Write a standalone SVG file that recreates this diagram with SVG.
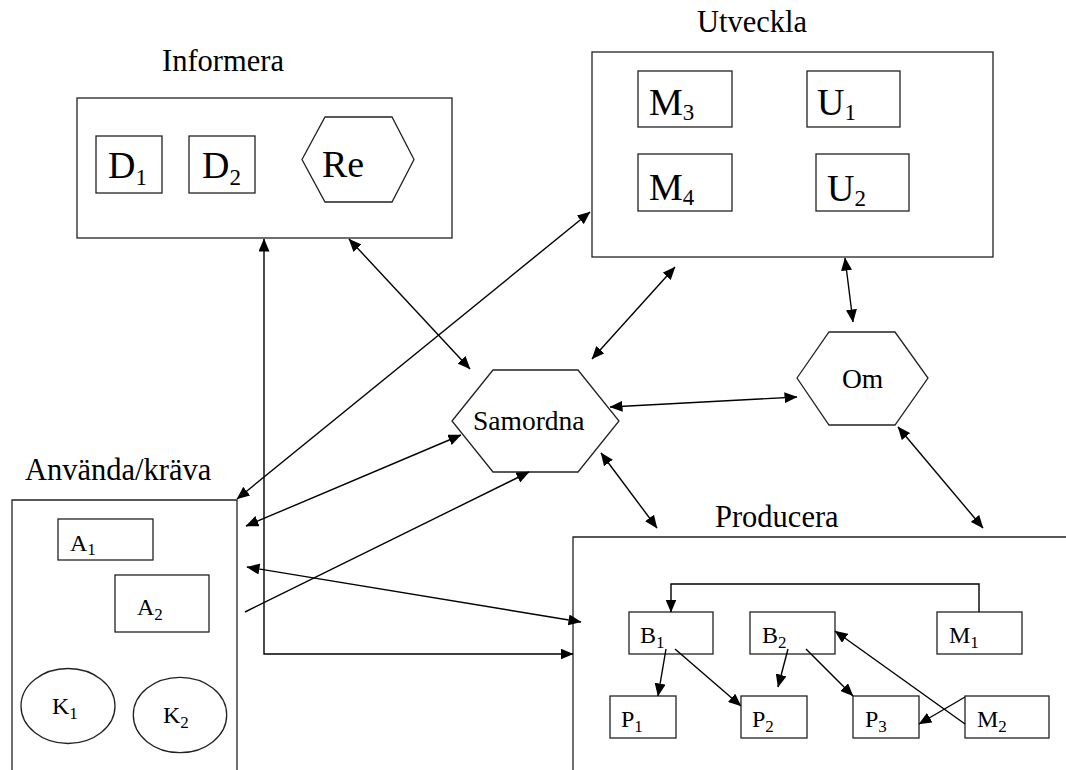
<svg xmlns="http://www.w3.org/2000/svg" width="1066" height="770" viewBox="0 0 1066 770">
<style>
.box{fill:none;stroke:#222;stroke-width:1.3}
.shape{fill:#fff;stroke:#222;stroke-width:1.3}
.t{font-family:"Liberation Serif","Times New Roman",serif;fill:#000}
.title{font-size:30.5px}
.big{font-size:38px}
.mid{font-size:27.5px}
.sm{font-size:24px}
.sub-b{font-size:23px}
.sub-s{font-size:17px}
.c{fill:none;stroke:#000;stroke-width:1.4}
</style>
<defs>
<marker id="ah" markerUnits="userSpaceOnUse" markerWidth="13" markerHeight="11" refX="12.5" refY="5.5" orient="auto-start-reverse">
<path d="M0,0 L13,5.5 L0,11 z" fill="#000"/>
</marker>
</defs>
<rect width="1066" height="770" fill="#fff"/>

<g id="informera">
<text class="t title" x="162" y="71">Informera</text>
<rect class="box" x="77" y="98" width="375" height="140"/>
<g id="D1"><rect class="box" x="96" y="136" width="66" height="57"/><text class="t big" x="108" y="178">D<tspan class="sub-b" dy="7">1</tspan></text></g>
<g id="D2"><rect class="box" x="189" y="136" width="66" height="57"/><text class="t big" x="202" y="178">D<tspan class="sub-b" dy="7">2</tspan></text></g>
<g id="Re"><polygon class="shape" points="302,159.5 325,117 392,117 414,159.5 392,202 325,202"/><text class="t big" x="322" y="177">Re</text></g>
</g>

<g id="utveckla">
<text class="t title" x="697" y="32">Utveckla</text>
<rect class="box" x="592" y="52" width="401" height="205"/>
<g id="M3"><rect class="box" x="638" y="71" width="94" height="56"/><text class="t big" x="649" y="115">M<tspan class="sub-b" dy="5">3</tspan></text></g>
<g id="U1"><rect class="box" x="807" y="71" width="93" height="56"/><text class="t big" x="817" y="115">U<tspan class="sub-b" dy="5">1</tspan></text></g>
<g id="M4"><rect class="box" x="638" y="154" width="94" height="57"/><text class="t big" x="649" y="200">M<tspan class="sub-b" dy="5">4</tspan></text></g>
<g id="U2"><rect class="box" x="816" y="154" width="93" height="57"/><text class="t big" x="827" y="201">U<tspan class="sub-b" dy="5">2</tspan></text></g>
</g>

<g id="samordna">
<polygon class="shape" points="452,421 493,370 578,370 619,421 578,472 493,472"/>
<text class="t mid" x="473" y="430">Samordna</text>
</g>

<g id="om">
<polygon class="shape" points="797,378 829,332 895,332 928,378 895,425 829,425"/>
<text class="t mid" x="842" y="388">Om</text>
</g>

<g id="anvanda">
<text class="t title" x="25" y="480">Använda/kräva</text>
<path class="box" d="M12,771 V500 H237 V771"/>
<g id="A1"><rect class="box" x="58" y="519" width="95" height="41"/><text class="t sm" x="70" y="551">A<tspan class="sub-s" dy="4">1</tspan></text></g>
<g id="A2"><rect class="box" x="115" y="575" width="94" height="57"/><text class="t sm" x="137" y="615">A<tspan class="sub-s" dy="5">2</tspan></text></g>
<g id="K1"><ellipse class="box" cx="68" cy="706" rx="47" ry="37.5"/><text class="t sm" x="52" y="714">K<tspan class="sub-s" dy="5">1</tspan></text></g>
<g id="K2"><ellipse class="box" cx="180" cy="715" rx="46.7" ry="37.7"/><text class="t sm" x="163" y="723">K<tspan class="sub-s" dy="5">2</tspan></text></g>
</g>

<g id="producera">
<text class="t title" x="715" y="527">Producera</text>
<path class="box" d="M573,771 V537 H1067"/>
<g id="B1"><rect class="box" x="629" y="612" width="84" height="42"/><text class="t sm" x="640" y="643">B<tspan class="sub-s" dy="5">1</tspan></text></g>
<g id="B2"><rect class="box" x="750" y="612" width="85" height="42"/><text class="t sm" x="762" y="643">B<tspan class="sub-s" dy="5">2</tspan></text></g>
<g id="M1"><rect class="box" x="937" y="612" width="85" height="42"/><text class="t sm" x="949" y="643">M<tspan class="sub-s" dy="5">1</tspan></text></g>
<g id="P1"><rect class="box" x="610" y="696" width="66" height="42"/><text class="t sm" x="621" y="727">P<tspan class="sub-s" dy="5">1</tspan></text></g>
<g id="P2"><rect class="box" x="741" y="696" width="66" height="42"/><text class="t sm" x="752" y="727">P<tspan class="sub-s" dy="5">2</tspan></text></g>
<g id="P3"><rect class="box" x="853" y="696" width="66" height="42"/><text class="t sm" x="865" y="727">P<tspan class="sub-s" dy="5">3</tspan></text></g>
<g id="M2"><rect class="box" x="965" y="696" width="84" height="42"/><text class="t sm" x="977" y="727">M<tspan class="sub-s" dy="5">2</tspan></text></g>
</g>

<g id="connectors">
<path class="c" d="M264,239 V654 H573" marker-start="url(#ah)" marker-end="url(#ah)"/>
<path class="c" d="M349,239 L470,369" marker-start="url(#ah)" marker-end="url(#ah)"/>
<path class="c" d="M590,212 L237,499" marker-start="url(#ah)" marker-end="url(#ah)"/>
<path class="c" d="M675,267 L592,359" marker-start="url(#ah)" marker-end="url(#ah)"/>
<path class="c" d="M845,258 L853,322" marker-start="url(#ah)" marker-end="url(#ah)"/>
<path class="c" d="M610,407 L797,397" marker-start="url(#ah)" marker-end="url(#ah)"/>
<path class="c" d="M601,453 L657,528" marker-start="url(#ah)" marker-end="url(#ah)"/>
<path class="c" d="M898,427 L983,528" marker-start="url(#ah)" marker-end="url(#ah)"/>
<path class="c" d="M461,435 L246,526" marker-start="url(#ah)" marker-end="url(#ah)"/>
<path class="c" d="M245,612 L529,472" marker-end="url(#ah)"/>
<path class="c" d="M247,567 L581,622" marker-start="url(#ah)" marker-end="url(#ah)"/>
<path class="c" d="M979,612 V584 H671 V612" marker-end="url(#ah)"/>
<path class="c" d="M666,649 L658,696" marker-end="url(#ah)"/>
<path class="c" d="M675,649 L741,706" marker-end="url(#ah)"/>
<path class="c" d="M788,649 L778,687" marker-end="url(#ah)"/>
<path class="c" d="M806,649 L853,696" marker-end="url(#ah)"/>
<path class="c" d="M965,724 L835,631" marker-end="url(#ah)"/>
<path class="c" d="M965,697 L919,724" marker-end="url(#ah)"/>
</g>
</svg>
